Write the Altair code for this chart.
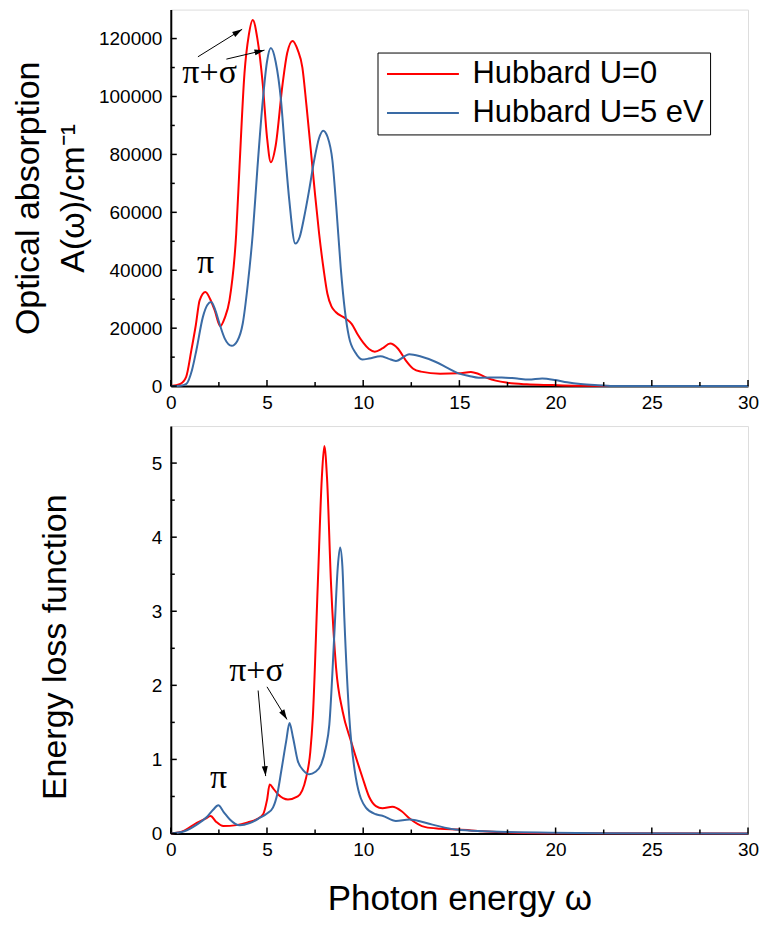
import math
import altair as alt
import pandas as pd

SERIES = ["Hubbard U=0", "Hubbard U=5 eV"]
RED = "#FF0000"
BLUE = "#3A6BA5"

# ---- Top panel: optical absorption A(w) (cm^-1) ----
abs_u0_x = [0, 0.5, 0.8, 1.07, 1.3, 1.5, 1.8, 2.05, 2.28, 2.57, 2.8, 3.05, 3.4, 3.57, 3.83, 4.05,
            4.26, 4.5, 4.78, 5.0, 5.2, 5.45, 5.81, 6.05, 6.33, 6.6, 6.84, 7.05, 7.28, 7.5, 7.71,
            7.95, 8.14, 8.35, 8.57, 9.09, 9.4, 9.69, 10.0, 10.3, 10.6, 11.0, 11.4, 11.8, 12.2,
            12.6, 13.0, 14.0, 14.95, 15.6, 16.0, 16.5, 17.5, 18.5, 19.8, 21, 23, 25, 30]
abs_u0_y = [0, 800, 3200, 12400, 21000, 29600, 32500, 30000, 26200, 20700, 23500, 29600, 52600,
            75500, 108000, 121000, 126400, 120000, 104300, 86000, 77300, 83000, 104300, 115000,
            119200, 116000, 110000, 97000, 81300, 66000, 52600, 40000, 31900, 27500, 25600, 23300,
            21500, 18100, 15000, 12800, 11900, 13000, 14700, 13000, 9000, 6000, 5000, 4300, 4400,
            4900, 4200, 2650, 1150, 600, 350, 150, 50, 20, 0]
abs_u5_x = [0, 0.5, 0.81, 1.1, 1.33, 1.67, 1.9, 2.1, 2.3, 2.53, 2.8, 3.17, 3.45, 3.74, 4.0, 4.26,
            4.5, 4.78, 5.0, 5.2, 5.45, 5.73, 5.95, 6.16, 6.47, 6.7, 6.93, 7.2, 7.45, 7.7, 7.92,
            8.15, 8.4, 8.6, 8.83, 9.05, 9.26, 9.6, 9.95, 10.3, 10.9, 11.3, 11.7, 12.4, 13.0, 13.75,
            14.4, 14.95, 15.5, 16.0, 17.2, 18.0, 18.6, 19.3, 20.0, 20.6, 21.3, 22.2, 23.2, 26, 30]
abs_u5_y = [0, 150, 800, 5500, 12400, 23900, 28000, 29000, 26500, 21600, 16500, 13900, 15500,
            21600, 35000, 52600, 75000, 98500, 112000, 116700, 112000, 98500, 80000, 64100, 49200,
            51500, 58300, 68000, 77900, 85500, 88200, 86000, 77900, 62000, 41100, 26000, 17000,
            11500, 9200, 9500, 10300, 9500, 8700, 11000, 10200, 8400, 6200, 4400, 3500, 2900, 3000,
            2600, 2300, 2650, 2070, 1300, 700, 300, 0, 0, 0]

# ---- Bottom panel: energy loss function ----
elf_u0_x = [0, 0.7, 1.35, 1.8, 2.07, 2.35, 2.73, 3.41, 4.0, 4.45, 4.8, 5.0, 5.14, 5.35, 5.57,
            6.09, 6.6, 7.03, 7.25, 7.38, 7.64, 7.85, 7.98, 8.12, 8.33, 8.59, 8.93, 9.36, 9.97,
            10.3, 10.66, 11.0, 11.52, 12.0, 12.38, 13.24, 14.0, 14.97, 16.2, 17.9, 20, 30]
elf_u0_y = [0, 0.04, 0.145, 0.2, 0.235, 0.16, 0.1, 0.113, 0.15, 0.19, 0.26, 0.45, 0.66, 0.6,
            0.53, 0.46, 0.5, 0.75, 1.1, 1.56, 3.36, 4.8, 5.23, 4.8, 3.36, 2.24, 1.65, 1.25, 0.75,
            0.5, 0.37, 0.34, 0.36, 0.3, 0.21, 0.086, 0.065, 0.054, 0.03, 0.01, 0.003, 0]
elf_u5_x = [0, 0.7, 1.35, 1.9, 2.2, 2.47, 2.75, 3.07, 3.59, 4.1, 4.62, 5.0, 5.31, 5.55, 5.74,
            6.0, 6.17, 6.35, 6.6, 6.9, 7.2, 7.5, 7.81, 8.05, 8.24, 8.5, 8.68, 8.8, 8.92, 9.02,
            9.28, 9.62, 10.14, 10.66, 11.0, 11.7, 12.4, 13.6, 14.8, 17.5, 22.7, 30]
elf_u5_y = [0, 0.03, 0.12, 0.23, 0.32, 0.38, 0.29, 0.19, 0.11, 0.14, 0.21, 0.27, 0.35, 0.55,
            0.84, 1.25, 1.49, 1.3, 0.98, 0.85, 0.80, 0.83, 0.93, 1.15, 1.47, 2.69, 3.6, 3.86, 3.6,
            2.91, 1.56, 0.75, 0.35, 0.26, 0.24, 0.17, 0.19, 0.12, 0.054, 0.02, 0.005, 0]

# ---- annotations ----
top_labels = ["π", "π+σ"]
top_label_x = [1.81, 2.02]
top_label_y = [38900, 104500]
top_arrow_x = [1.41, 2.89]
top_arrow_y = [113700, 112900]
top_arrow_x2 = [3.71, 4.87]
top_arrow_y2 = [123200, 116000]

bot_labels = ["π", "π+σ"]
bot_label_x = [2.48, 4.45]
bot_label_y = [0.62, 2.06]
bot_arrow_x = [4.54, 5.0]
bot_arrow_y = [1.93, 1.98]
bot_arrow_x2 = [4.93, 6.04]
bot_arrow_y2 = [0.775, 1.54]

x_major = [0, 5, 10, 15, 20, 25, 30]
x_minor = [2.5, 7.5, 12.5, 17.5, 22.5, 27.5]
top_y_major = [0, 20000, 40000, 60000, 80000, 100000, 120000]
top_y_minor = [10000, 30000, 50000, 70000, 90000, 110000]
bot_y_major = [0, 1, 2, 3, 4, 5]
bot_y_minor = [0.5, 1.5, 2.5, 3.5, 4.5]

W = 578
H1 = 377
H2 = 408
TOP_MAX = 130000
BOT_MAX = 5.5
FONT = "Liberation Sans"


def curves(x0, y0, x1, y1):
    rows = [{"x": a, "y": b, "series": SERIES[0]} for a, b in zip(x0, y0)]
    rows += [{"x": a, "y": b, "series": SERIES[1]} for a, b in zip(x1, y1)]
    return pd.DataFrame(rows)


def arrows(x, y, x2, y2, ymax, h):
    rows = []
    for a, b, c, d in zip(x, y, x2, y2):
        dx = (c - a) * W / 30.0
        dy = -(d - b) * h / ymax
        ang = (math.degrees(math.atan2(dx, -dy)) + 360) % 360
        rows.append({"x": a, "y": b, "x2": c, "y2": d, "angle": ang})
    return pd.DataFrame(rows)


def panel(df, ymax, h, y_title, y_major, y_minor, labels_df, arrows_df, show_legend,
          x_title, y_title_x, y_title_y):
    xs = alt.Scale(domain=[0, 30], nice=False, zero=False)
    ys = alt.Scale(domain=[0, ymax], nice=False)
    if show_legend:
        legend = alt.Legend(
            title=None, orient="none", legendX=207, legendY=43, direction="vertical",
            symbolType="M-1,0H5", symbolSize=576, symbolStrokeWidth=2,
            labelFont=FONT, labelFontSize=31, labelColor="black", labelOffset=58,
            labelLimit=500, rowPadding=7, padding=6, strokeColor="black", fillColor="white",
        )
    else:
        legend = None
    x_axis = alt.Axis(
        values=x_major, title=x_title if x_title else None, ticks=False, grid=False,
        labelFont=FONT, labelFontSize=19, labelColor="black", labelPadding=7,
        domainColor="black", domainWidth=2, labelFlush=False,
        titleFont=FONT, titleFontSize=35, titleFontWeight="normal", titleColor="black",
        titleBaseline="alphabetic", titleY=76,
    )
    y_axis = alt.Axis(
        values=y_major, title=y_title, ticks=False, grid=False, format="d",
        labelFont=FONT, labelFontSize=19, labelColor="black", labelPadding=9,
        domainColor="black", domainWidth=2, labelFlush=False,
        titleFont=FONT, titleFontSize=34, titleFontWeight="normal", titleColor="black",
        titleLineHeight=45, titleBaseline="middle", titleX=y_title_x, titleY=y_title_y,
    )
    lines = alt.Chart(df).mark_line(strokeWidth=2, interpolate="monotone").encode(
        x=alt.X("x:Q", scale=xs, axis=x_axis),
        y=alt.Y("y:Q", scale=ys, axis=y_axis),
        color=alt.Color("series:N", scale=alt.Scale(domain=SERIES, range=[RED, BLUE]),
                        legend=legend),
        order=alt.Order("x:Q"),
    )
    xt_major = alt.Chart(pd.DataFrame({"v": x_major})).mark_rule(color="black", strokeWidth=1.5).encode(
        x=alt.X("v:Q", scale=xs), y=alt.value(h), y2=alt.value(h - 6))
    xt_minor = alt.Chart(pd.DataFrame({"v": x_minor})).mark_rule(color="black", strokeWidth=1.5).encode(
        x=alt.X("v:Q", scale=xs), y=alt.value(h), y2=alt.value(h - 4))
    yt_major = alt.Chart(pd.DataFrame({"v": y_major})).mark_rule(color="black", strokeWidth=1.5).encode(
        y=alt.Y("v:Q", scale=ys), x=alt.value(0), x2=alt.value(6))
    yt_minor = alt.Chart(pd.DataFrame({"v": y_minor})).mark_rule(color="black", strokeWidth=1.5).encode(
        y=alt.Y("v:Q", scale=ys), x=alt.value(0), x2=alt.value(4))
    txt = alt.Chart(labels_df).mark_text(
        font="Liberation Serif", fontSize=34, color="black", baseline="alphabetic", align="center"
    ).encode(x=alt.X("x:Q", scale=xs), y=alt.Y("y:Q", scale=ys), text="t:N")
    shafts = alt.Chart(arrows_df).mark_rule(color="black", strokeWidth=1).encode(
        x=alt.X("x:Q", scale=xs), y=alt.Y("y:Q", scale=ys), x2="x2:Q", y2="y2:Q")
    heads = alt.Chart(arrows_df).mark_point(
        shape="M0,0L-0.6,2L0.6,2Z", size=100, filled=True, color="black", opacity=1, strokeWidth=0
    ).encode(x=alt.X("x2:Q", scale=xs), y=alt.Y("y2:Q", scale=ys), angle=alt.Angle("angle:Q", scale=None))
    return alt.layer(lines, xt_major, xt_minor, yt_major, yt_minor, shafts, heads, txt).properties(
        width=W, height=h)


top_df = curves(abs_u0_x, abs_u0_y, abs_u5_x, abs_u5_y)
bot_df = curves(elf_u0_x, elf_u0_y, elf_u5_x, elf_u5_y)
top_lab = pd.DataFrame({"x": top_label_x, "y": top_label_y, "t": top_labels})
bot_lab = pd.DataFrame({"x": bot_label_x, "y": bot_label_y, "t": bot_labels})
top_arr = arrows(top_arrow_x, top_arrow_y, top_arrow_x2, top_arrow_y2, TOP_MAX, H1)
bot_arr = arrows(bot_arrow_x, bot_arrow_y, bot_arrow_x2, bot_arrow_y2, BOT_MAX, H2)

top = panel(top_df, TOP_MAX, H1, ["Optical absorption", "A(ω)/cm⁻¹"], top_y_major, top_y_minor,
            top_lab, top_arr, True, None, -142, H1 / 2)
bot = panel(bot_df, BOT_MAX, H2, "Energy loss function", bot_y_major, bot_y_minor,
            bot_lab, bot_arr, False, "Photon energy ω", -115, 221)

chart = alt.vconcat(top, bot, spacing=12).resolve_legend(color="independent").resolve_scale(
    color="independent").properties(
    padding={"left": 3, "top": 0, "right": 0, "bottom": 0}
).configure_view(stroke="black", strokeWidth=1).configure(background="white")

chart.save("out.html", embed_options={"renderer": "svg", "actions": False})
